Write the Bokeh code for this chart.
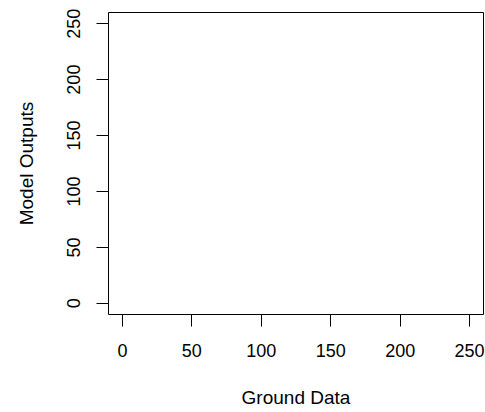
from bokeh.plotting import figure
from bokeh.models import FixedTicker, Range1d, ColumnDataSource
from bokeh.embed import file_html
from bokeh.resources import INLINE

# Data (the reference is an empty plot frame)
ground_data = []
model_outputs = []
x_ticks = [0, 50, 100, 150, 200, 250]
y_ticks = [0, 50, 100, 150, 200, 250]
x_limits = [-10, 260]
y_limits = [-10, 260]
x_title = "Ground Data"
y_title = "Model Outputs"

FONT = "Liberation Sans"

p = figure(width=485, height=412, output_backend="svg", toolbar_location=None,
           x_range=Range1d(*x_limits), y_range=Range1d(*y_limits),
           min_border_left=108, min_border_right=2, min_border_top=12, min_border_bottom=98)

src = ColumnDataSource(dict(x=ground_data, y=model_outputs))
p.scatter("x", "y", source=src, size=6, color="black", fill_color=None)

p.background_fill_color = "white"
p.border_fill_color = "white"
p.outline_line_color = "black"
p.outline_line_width = 1
p.grid.visible = False

for ax in (p.xaxis[0], p.yaxis[0]):
    ax.axis_line_color = None
    ax.major_tick_line_color = "black"
    ax.major_tick_line_width = 1
    ax.major_tick_in = 0
    ax.major_tick_out = 12
    ax.minor_tick_line_color = None
    ax.major_label_text_font = FONT
    ax.major_label_text_font_size = "18px"
    ax.major_label_text_color = "black"
    ax.axis_label_text_font = FONT
    ax.axis_label_text_font_size = "19px"
    ax.axis_label_text_font_style = "normal"
    ax.axis_label_text_color = "black"

p.xaxis.ticker = FixedTicker(ticks=x_ticks)
p.yaxis.ticker = FixedTicker(ticks=y_ticks)
p.xaxis.axis_label = x_title
p.yaxis.axis_label = y_title
p.xaxis.major_label_standoff = 17
p.xaxis.axis_label_standoff = 27
p.yaxis.major_label_standoff = 16
p.yaxis.axis_label_standoff = 28
p.yaxis.major_label_orientation = "vertical"

open("out.html", "w").write(file_html(p, INLINE))
